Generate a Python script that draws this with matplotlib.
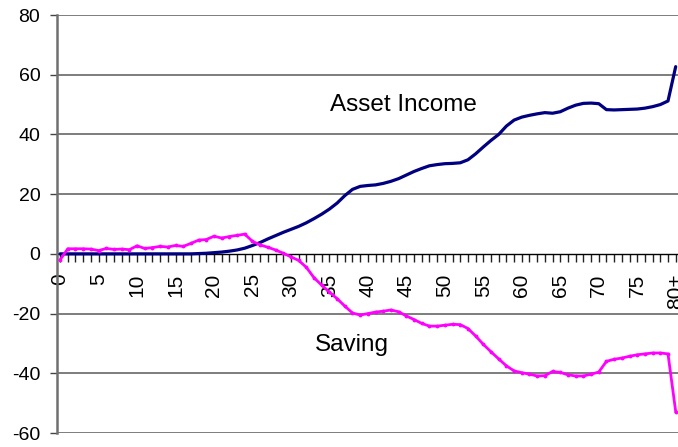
import matplotlib
matplotlib.use("Agg")
import matplotlib.pyplot as plt
import matplotlib.transforms as mtransforms

plt.rcParams['font.family'] = ['Liberation Sans', 'DejaVu Sans']

ages = list(range(0, 81))
asset_income = [0.0]*18 + [
    0.1, 0.2, 0.4, 0.6, 0.9, 1.3, 1.9, 2.8, 3.8, 5.0,   # 18-27
    6.1, 7.2, 8.2, 9.2, 10.4, 11.8, 13.3, 15.0, 17.0, 19.5,  # 28-37
    21.6, 22.6, 22.9, 23.1, 23.6, 24.3, 25.2, 26.4, 27.6, 28.6,  # 38-47
    29.5, 29.9, 30.2, 30.3, 30.5, 31.5, 33.5, 35.8, 38.0, 40.0,  # 48-57
    42.8, 44.8, 45.8, 46.4, 46.9, 47.3, 47.1, 47.6, 48.8, 49.8,  # 58-67
    50.4, 50.5, 50.3, 48.3, 48.2, 48.3, 48.4, 48.5, 48.8, 49.3,  # 68-77
    50.0, 51.2, 62.7]  # 78-80
saving = [
    -2.0, 1.7, 1.7, 1.7, 1.6, 1.1, 1.8, 1.5, 1.6, 1.4,   # 0-9
    2.7, 1.8, 2.1, 2.5, 2.3, 2.8, 2.5, 3.5, 4.6, 4.8,    # 10-19
    5.9, 5.3, 5.8, 6.2, 6.6, 4.2, 3.0, 2.2, 1.3, 0.2,    # 20-29
    -1.0, -2.2, -4.5, -8.0, -10.5, -12.8, -15.0, -17.5, -19.8, -20.5,  # 30-39
    -20.0, -19.5, -19.2, -18.8, -19.4, -20.8, -22.0, -23.3, -24.2, -24.2,  # 40-49
    -23.9, -23.6, -23.7, -25.0, -27.5, -30.3, -32.8, -35.2, -37.5, -39.2,  # 50-59
    -39.8, -40.3, -40.9, -40.8, -39.4, -39.7, -40.5, -40.9, -40.9, -40.3,  # 60-69
    -39.6, -36.0, -35.3, -34.9, -34.3, -33.8, -33.5, -33.2, -33.2, -33.5,  # 70-79
    -52.8]  # 80
xtick_labels = [str(a) if a % 5 == 0 else '' for a in ages[:-1]] + ['80+']
yticks = [-60, -40, -20, 0, 20, 40, 60, 80]

W, H = 678, 447
fig = plt.figure(figsize=(W/100, H/100), dpi=100)
ax = fig.add_axes([57/W, (H-433)/H, (678-57)/W, (433-15)/H])

ax.set_xlim(-0.4, 80.3)
ax.set_ylim(-60, 80)

for y in yticks:
    if y != 0:
        ax.axhline(y, color='#5a5a5a', lw=1.1, zorder=1)

ax.plot(ages, asset_income, color='#000080', lw=2.3, zorder=3, solid_capstyle='round')
ax.plot(ages, saving, color='#FF00FF', lw=2.0, marker='.', markersize=3.5, zorder=4)

for s in ['top', 'right']:
    ax.spines[s].set_visible(False)
ax.spines['left'].set_color('#707070')
ax.spines['left'].set_linewidth(1.8)
ax.spines['bottom'].set_position(('data', 0))
ax.spines['bottom'].set_color('black')
ax.spines['bottom'].set_linewidth(1.0)
ax.spines['bottom'].set_zorder(2)

ax.set_yticks(yticks)
ax.set_yticklabels([str(v) for v in yticks], fontsize=14)
ax.tick_params(axis='y', direction='out', length=5, width=1.0, color='#444444', pad=7)

ax.set_xticks(ages)
ax.set_xticklabels(xtick_labels, rotation=90, fontsize=15, va='top', ha='center')
ax.tick_params(axis='x', direction='out', length=6, width=1.0, color='#222222', pad=8)

pix = mtransforms.Affine2D().scale(1, -1).translate(0, H)
ax.text(330, 110.7, 'Asset Income', fontsize=17.5, va='baseline', ha='left', transform=pix)
ax.text(315, 351.5, 'Saving', fontsize=17.5, va='baseline', ha='left', transform=pix)

fig.savefig('out.png', dpi=100)
